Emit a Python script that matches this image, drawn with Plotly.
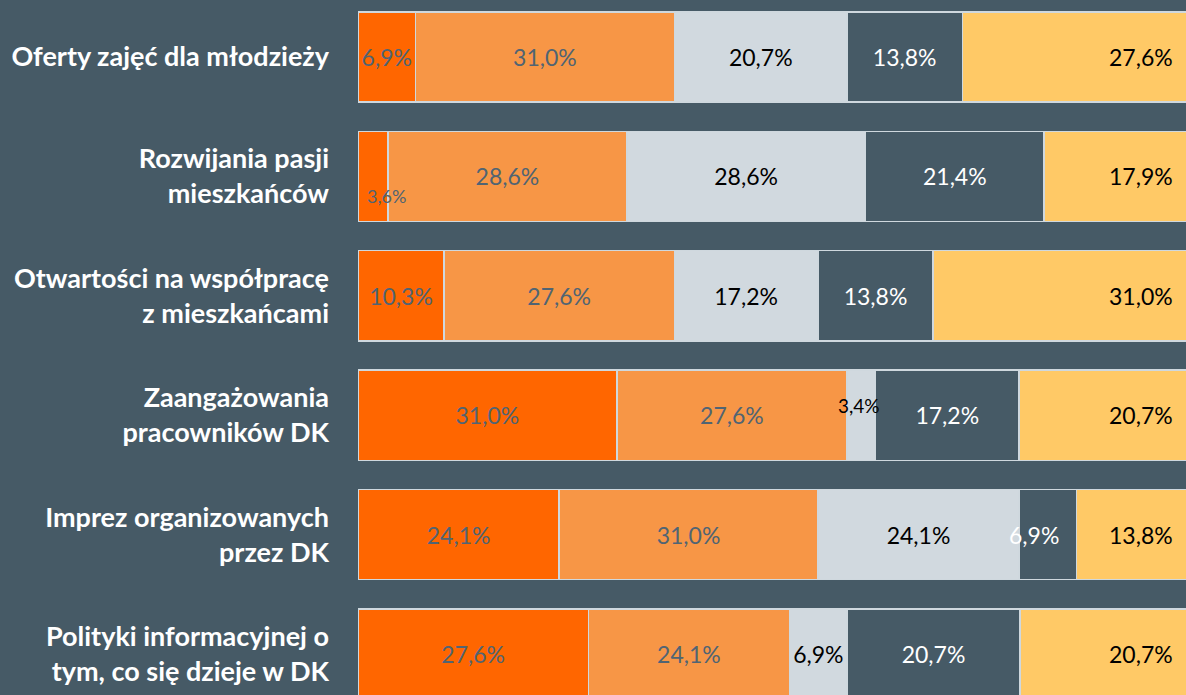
import plotly.graph_objects as go

categories = [
    'Oferty zajęć dla młodzieży',
    'Rozwijania pasji<br>mieszkańców',
    'Otwartości na współpracę<br>z mieszkańcami',
    'Zaangażowania<br>pracowników DK',
    'Imprez organizowanych<br>przez DK',
    'Polityki informacyjnej o<br>tym, co się dzieje w DK',
]

# share of answers (%) per rating, left to right
s1 = [6.9, 3.6, 10.3, 31.0, 24.1, 27.6]
s2 = [31.0, 28.6, 27.6, 27.6, 31.0, 24.1]
s3 = [20.7, 28.6, 17.2, 3.4, 24.1, 6.9]
s4 = [13.8, 21.4, 13.8, 17.2, 6.9, 20.7]
s5 = [27.6, 17.9, 31.0, 20.7, 13.8, 20.7]

series = [s1, s2, s3, s4, s5]
names = ['1', '2', '3', '4', '5']
colors = ['#ff6600', '#f79646', '#d1d9df', '#465a66', '#ffc966']
text_colors = ['#506473', '#506473', '#000000', '#ffffff', '#000000']

BG = '#465a66'
FONT = 'Lato'
X_MAX = 99.2


def pct(v):
    return f'{v:.1f}'.replace('.', ',') + '%'


# labels that sit off-centre in the original chart: (series, row) -> (size, dx, dy)
special = {
    (0, 1): (18, 13, -20),
    (2, 3): (19, -2, 10),
    (3, 4): (23, -14, 0),
}

fig = go.Figure()
annotations = []
for si, vals in enumerate(series):
    texts = []
    for ri, v in enumerate(vals):
        if si == 4 or (si, ri) in special:
            texts.append('')
        else:
            texts.append(pct(v))
    fig.add_trace(go.Bar(
        name=names[si],
        y=categories,
        x=vals,
        orientation='h',
        marker=dict(color=colors[si], line=dict(color='#cfd8de', width=1.5)),
        text=texts,
        textposition='inside',
        insidetextanchor='middle',
        textangle=0,
        constraintext='none',
        textfont=dict(family=FONT, size=23, color=text_colors[si]),
        hovertemplate='%{y}: %{x}%<extra></extra>',
    ))

for ri in range(len(categories)):
    left = 0.0
    for si, vals in enumerate(series):
        v = vals[ri]
        if (si, ri) in special:
            size, dx, dy = special[(si, ri)]
            annotations.append(dict(
                x=left + v / 2, y=categories[ri], xref='x', yref='y',
                text=pct(v), showarrow=False, xshift=dx, yshift=dy,
                font=dict(family=FONT, size=size, color=text_colors[si]),
            ))
        left += v
    # last segment label is right-aligned near the (clipped) bar end
    annotations.append(dict(
        x=min(left, X_MAX), y=categories[ri], xref='x', yref='y',
        text=pct(s5[ri]), showarrow=False, xanchor='right', xshift=-11,
        font=dict(family=FONT, size=23, color=text_colors[4]),
    ))

fig.update_layout(
    barmode='stack',
    bargap=0.245,
    width=1186,
    height=695,
    margin=dict(l=358, r=0, t=0, b=0),
    paper_bgcolor=BG,
    plot_bgcolor=BG,
    showlegend=False,
    annotations=annotations,
)
fig.update_xaxes(range=[0, X_MAX], visible=False, fixedrange=True)
fig.update_yaxes(
    range=[5.343, -0.477],
    showgrid=False,
    zeroline=False,
    ticklabelstandoff=28,
    tickfont=dict(family=FONT, size=27, color='#ffffff', weight='bold'),
)

fig.write_html(
    'out.html',
    config=dict(displayModeBar=False),
    post_script="document.body.style.margin='0px';",
)
